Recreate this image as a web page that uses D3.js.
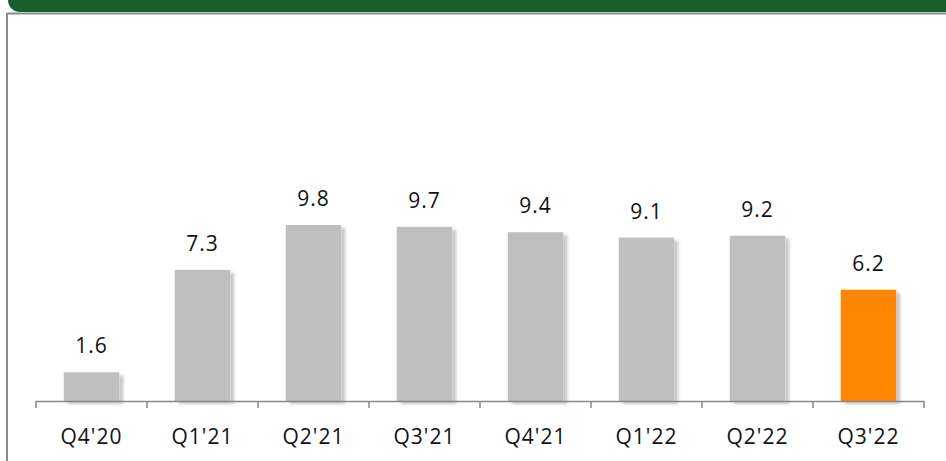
<!DOCTYPE html>
<html lang="en">
<head>
    <meta charset="UTF-8">
    <title>Quarterly bars</title>
    <script src="https://cdn.jsdelivr.net/npm/d3@7"></script>
    <style>
        body { margin:0; background:#fff; }
        .bar-label, .axis text { font-family:"Open Sans", sans-serif; fill:#111; font-size:21px; letter-spacing:1px; }
    </style>
</head>
<body>
<div class="app"></div>
<script>
    var quarters = ["Q4'20","Q1'21","Q2'21","Q3'21","Q4'21","Q1'22","Q2'22","Q3'22"];
    var values = [1.6, 7.3, 9.8, 9.7, 9.4, 9.1, 9.2, 6.2];
    var highlight = ["Q3'22"];

    var width = 946, height = 461;
    var svg = d3.select('.app').append('svg')
        .attr('width', width)
        .attr('height', height);

    // shadow for bars
    var defs = svg.append('defs');
    var f = defs.append('filter').attr('id','shadow')
        .attr('x','-20%').attr('y','-20%').attr('width','150%').attr('height','150%');
    f.append('feDropShadow').attr('dx',4).attr('dy',3).attr('stdDeviation',1.8)
        .attr('flood-color','#000').attr('flood-opacity',0.22);

    // header band + frame
    svg.append('path')
        .attr('d','M8,0 H946 V12 H20 A12,12 0 0 1 8,0 Z')
        .attr('fill','#1a5e2b');
    svg.append('line').attr('x1',7).attr('x2',946).attr('y1',13.5).attr('y2',13.5)
        .attr('stroke','#8a8a8a').attr('stroke-width',2);
    svg.append('line').attr('x1',7).attr('x2',7).attr('y1',13).attr('y2',height)
        .attr('stroke','#8a8a8a').attr('stroke-width',2);

    var x = d3.scaleBand().domain(quarters).range([36, 924]).paddingInner(0.5).paddingOuter(0.25);
    var y = d3.scaleLinear().domain([0, 10]).range([401, 221.4]);

    var g = svg.append('g');

    g.selectAll('.bar').data(quarters).enter().append('rect')
        .attr('class','bar')
        .attr('x', function(d){ return x(d); })
        .attr('width', x.bandwidth())
        .attr('y', function(d,i){ return y(values[i]); })
        .attr('height', function(d,i){ return y(0) - y(values[i]); })
        .attr('fill', function(d){ return highlight.indexOf(d) >= 0 ? '#ff8600' : '#bfbfbf'; })
        .attr('filter','url(#shadow)');

    g.selectAll('.bar-label').data(quarters).enter().append('text')
        .attr('class','bar-label')
        .attr('x', function(d){ return x(d) + x.bandwidth()/2; })
        .attr('y', function(d,i){ return y(values[i]) - 19; })
        .attr('text-anchor','middle')
        .text(function(d,i){ return values[i].toFixed(1); });

    // category axis with ticks between bands
    var axis = svg.append('g').attr('class','axis');
    axis.append('line').attr('x1',36).attr('x2',924).attr('y1',401.5).attr('y2',401.5)
        .attr('stroke','#888').attr('stroke-width',1.5);
    var step = x.step();
    var edges = d3.range(quarters.length + 1).map(function(i){ return 36 + i * step; });
    axis.selectAll('.tick').data(edges).enter().append('line')
        .attr('x1', function(d){ return d; }).attr('x2', function(d){ return d; })
        .attr('y1', 401).attr('y2', 408)
        .attr('stroke','#888').attr('stroke-width',1.5);
    axis.selectAll('text').data(quarters).enter().append('text')
        .attr('x', function(d){ return x(d) + x.bandwidth()/2; })
        .attr('y', 444)
        .attr('text-anchor','middle')
        .text(function(d){ return d; });
</script>
</body>
</html>
